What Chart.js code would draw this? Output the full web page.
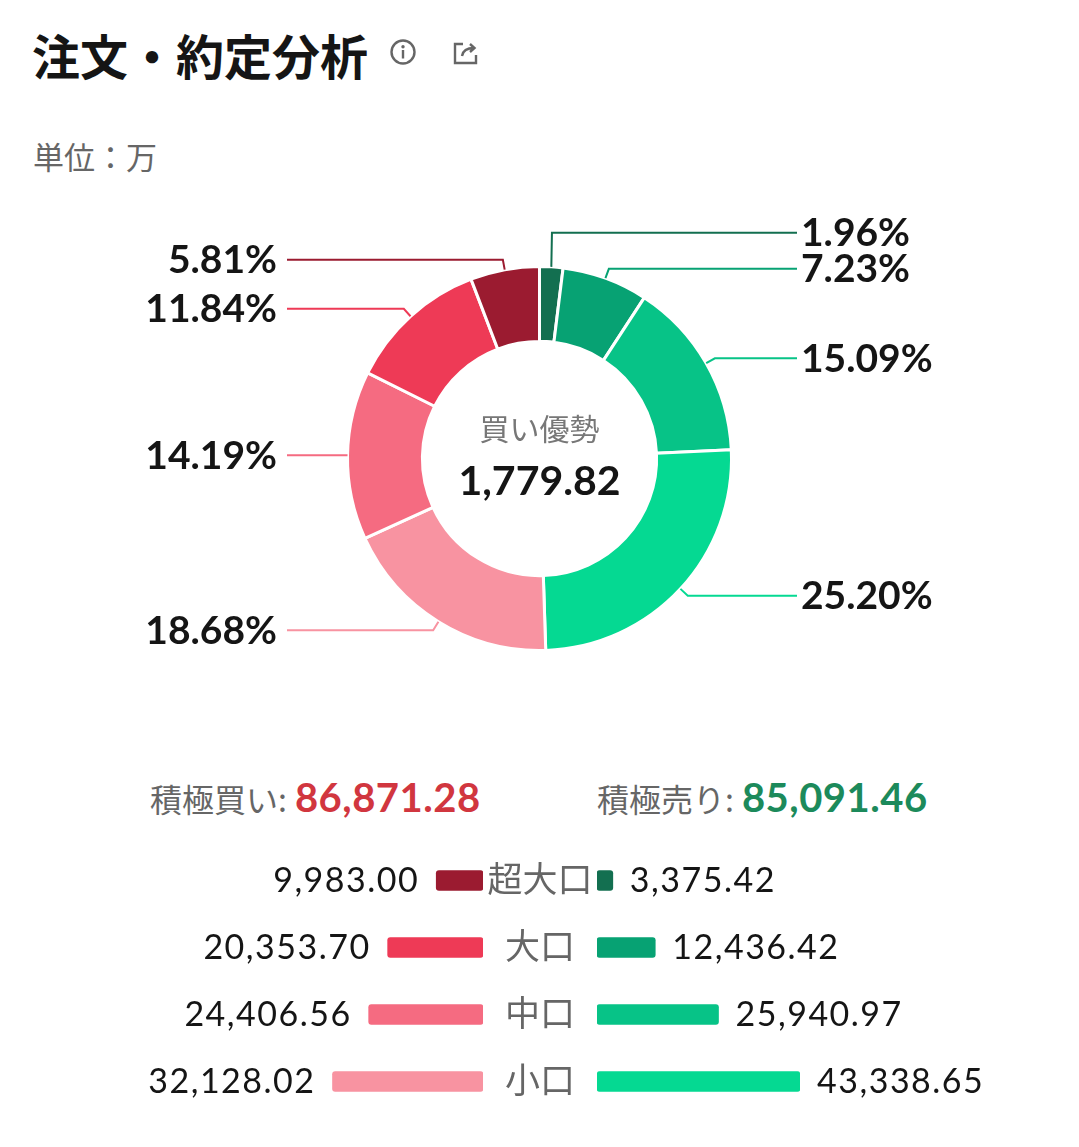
<!DOCTYPE html>
<html lang="ja">
<head>
<meta charset="utf-8">
<script src="https://cdn.jsdelivr.net/npm/chart.js@4.4.1/dist/chart.umd.min.js"></script>
<style>
  html, body { margin: 0; padding: 0; background: #fff; }
  body { width: 1079px; height: 1147px; position: relative; overflow: hidden;
         font-family: "Noto Sans CJK JP", "Noto Sans", sans-serif; }
  .abs { position: absolute; white-space: nowrap; }
  #title { left: 32px; top: 24px; font-size: 48px; line-height: 60px; font-weight: 700; color: #151515; }
  #unit { left: 33px; top: 136px; font-size: 31px; line-height: 40px; color: #666; }
  .sum { top: 775px; font-size: 32px; line-height: 44px; color: #666; }
  .sum b { font-family: Lato, sans-serif; font-size: 40px; font-weight: 700; margin-left: 8px; letter-spacing: 0.5px; }
  #buySum { left: 150px; }
  #buySum b { color: #d1363f; }
  #sellSum { left: 597px; }
  #sellSum b { color: #1c8a5b; }
  canvas { position: absolute; left: 0; }
</style>
</head>
<body>
<div id="title" class="abs">注文・約定分析</div>
<svg class="abs" style="left:388px;top:37px" width="30" height="30" viewBox="0 0 30 30">
  <circle cx="15" cy="15" r="11.5" fill="none" stroke="#666" stroke-width="2.4"/>
  <circle cx="15" cy="9.8" r="1.7" fill="#666"/>
  <rect x="13.8" y="13" width="2.4" height="8.5" fill="#666"/>
</svg>
<svg class="abs" style="left:451px;top:38px" width="30" height="30" viewBox="0 0 30 30">
  <path d="M12 6 H4 V25 H25 V17" fill="none" stroke="#666" stroke-width="2.4"/>
  <path d="M11 18 C12 12 16 10 23 10 M19 6 L23.5 10 L19 14" fill="none" stroke="#666" stroke-width="2.4"/>
</svg>
<div id="unit" class="abs">単位：万</div>

<canvas id="donut" width="1079" height="500" style="top:208px"></canvas>

<div id="buySum" class="abs sum">積極買い:<b></b></div>
<div id="sellSum" class="abs sum">積極売り:<b></b></div>

<canvas id="buyBars" width="1079" height="268" style="top:847px"></canvas>
<canvas id="sellBars" width="1079" height="268" style="top:847px"></canvas>

<script>
// 区分ごとの金額（単位：万）
const sizes = ['超大口', '大口', '中口', '小口'];
const buyValues = [9983.00, 20353.70, 24406.56, 32128.02];
const sellValues = [3375.42, 12436.42, 25940.97, 43338.65];
const buyColors = ['#9b1b30', '#ee3a56', '#f56b81', '#f893a1'];
const sellColors = ['#136f50', '#07a273', '#07c387', '#05d992'];
const centerLabel = '買い優勢';

const sum = arr => arr.reduce((a, b) => a + b, 0);
const fmt = v => v.toLocaleString('en-US', { minimumFractionDigits: 2, maximumFractionDigits: 2 });

const buyTotal = sum(buyValues);
const sellTotal = sum(sellValues);
const total = buyTotal + sellTotal;

document.querySelector('#buySum b').textContent = fmt(buyTotal);
document.querySelector('#sellSum b').textContent = fmt(sellTotal);

// ドーナツ: 売り（時計回り）→ 買い（小口から超大口へ）
const donutValues = sellValues.concat(buyValues.slice().reverse());
const donutColors = sellColors.concat(buyColors.slice().reverse());

// 引き出し線とラベル
const leaderLines = {
    id: 'leaderLines',
    afterDatasetsDraw(chart) {
        const c = chart.ctx;
        const arcs = chart.getDatasetMeta(0).data;
        const items = arcs.map((arc, i) => {
            const p = arc.getProps(['x', 'y', 'startAngle', 'endAngle', 'outerRadius'], true);
            const mid = (p.startAngle + p.endAngle) / 2;
            const r2 = p.outerRadius + 10;
            return {
                i,
                right: Math.cos(mid) >= 0,
                sx: p.x + p.outerRadius * Math.cos(mid),
                sy: p.y + p.outerRadius * Math.sin(mid),
                ex: p.x + r2 * Math.cos(mid),
                ey: p.y + r2 * Math.sin(mid)
            };
        });
        [true, false].forEach(side => {
            const list = items.filter(it => it.right === side).sort((a, b) => a.ey - b.ey);
            for (let k = list.length - 2; k >= 0; k--) {
                list[k].ey = Math.min(list[k].ey, list[k + 1].ey - 36);
            }
        });
        c.save();
        c.lineWidth = 2;
        c.font = 'bold 39px Lato';
        c.textBaseline = 'middle';
        items.forEach(it => {
            c.strokeStyle = donutColors[it.i];
            const endX = it.right ? 797 : 287;
            c.beginPath();
            c.moveTo(it.sx, it.sy);
            c.lineTo(it.ex, it.ey);
            c.lineTo(endX, it.ey);
            c.stroke();
            c.fillStyle = '#151515';
            c.textAlign = it.right ? 'left' : 'right';
            const pct = (donutValues[it.i] / total * 100).toFixed(2) + '%';
            c.fillText(pct, it.right ? 801 : 277, it.ey + 1);
        });
        // 中央のテキスト
        const a0 = arcs[0];
        c.textAlign = 'center';
        c.fillStyle = '#777';
        c.font = '30px "Noto Sans CJK JP"';
        c.fillText(centerLabel, a0.x, a0.y - 30);
        c.fillStyle = '#151515';
        c.font = 'bold 41px Lato';
        c.fillText(fmt(buyTotal - sellTotal), a0.x, a0.y + 23);
        c.restore();
    }
};

new Chart(document.getElementById('donut'), {
    type: 'doughnut',
    data: {
        labels: sizes.map(s => '売り' + s).concat(sizes.slice().reverse().map(s => '買い' + s)),
        datasets: [{
            data: donutValues,
            backgroundColor: donutColors,
            borderColor: '#fff',
            borderWidth: 3
        }]
    },
    options: {
        responsive: false,
        animation: false,
        cutout: '61%',
        layout: { padding: { left: 346, right: 346, top: 57, bottom: 56 } },
        plugins: { legend: { display: false }, tooltip: { enabled: false } }
    },
    plugins: [leaderLines]
});

// 横棒（左: 買い、右: 売り）
const maxValue = Math.max(...buyValues, ...sellValues);

function valueLabels(values, isBuy) {
    return {
        id: 'valueLabels' + (isBuy ? 'Buy' : 'Sell'),
        afterDatasetsDraw(chart) {
            const c = chart.ctx;
            c.save();
            c.textBaseline = 'middle';
            chart.getDatasetMeta(0).data.forEach((bar, i) => {
                c.font = '34px Lato';
                c.letterSpacing = '1.5px';
                c.fillStyle = '#151515';
                c.textAlign = isBuy ? 'right' : 'left';
                c.fillText(fmt(values[i]), isBuy ? bar.x - 17 : bar.x + 17, bar.y + 1);
                if (isBuy) {
                    c.letterSpacing = '0px';
                    c.font = '35px "Noto Sans CJK JP"';
                    c.fillStyle = '#666';
                    c.textAlign = 'center';
                    c.fillText(sizes[i], 540, bar.y - 2);
                }
            });
            c.restore();
        }
    };
}

function barChart(id, values, colors, isBuy) {
    return new Chart(document.getElementById(id), {
        type: 'bar',
        data: {
            labels: sizes,
            datasets: [{
                data: values,
                backgroundColor: colors,
                barThickness: 20,
                borderRadius: 3,
                borderSkipped: false
            }]
        },
        options: {
            indexAxis: 'y',
            responsive: false,
            animation: false,
            layout: { padding: isBuy ? { left: 280, right: 596 } : { left: 597, right: 279 } },
            scales: {
                x: { display: false, min: 0, max: maxValue, reverse: isBuy },
                y: { display: false }
            },
            plugins: { legend: { display: false }, tooltip: { enabled: false } }
        },
        plugins: [valueLabels(values, isBuy)]
    });
}

barChart('buyBars', buyValues, buyColors, true);
barChart('sellBars', sellValues, sellColors, false);
</script>
</body>
</html>
